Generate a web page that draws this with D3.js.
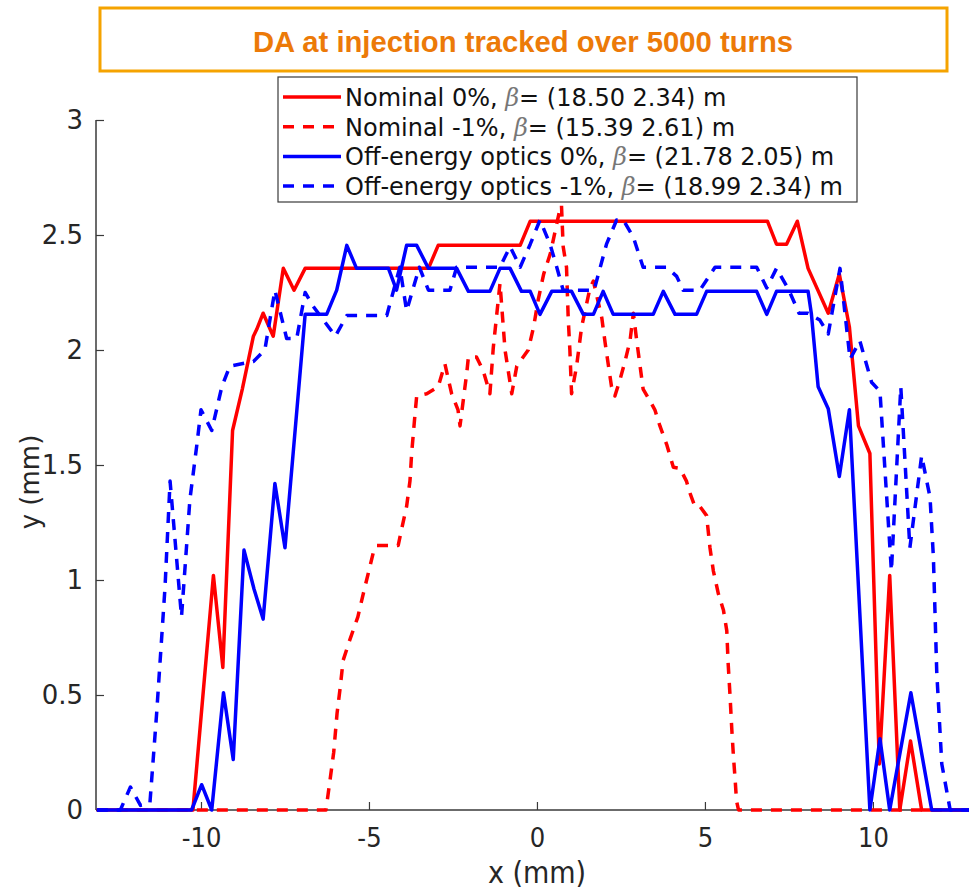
<!DOCTYPE html>
<html>
<head>
<meta charset="utf-8">
<script src="https://cdn.jsdelivr.net/npm/d3@7"></script>
<style>
  body { margin: 0; background: #fff; }
</style>
</head>
<body>
<div id="root"></div>
<script>
// Data ////////////////////////////////////////////////////////////////
const titleText = 'DA at injection tracked over 5000 turns';
const xTicks = [-10, -5, 0, 5, 10];
const xTickLabels = ['-10', '-5', '0', '5', '10'];
const yTicks = [0, 0.5, 1, 1.5, 2, 2.5, 3];
const yTickLabels = ['0', '0.5', '1', '1.5', '2', '2.5', '3'];

const legendNames = ['Nominal 0%', 'Nominal -1%', 'Off-energy optics 0%', 'Off-energy optics -1%'];
const legendBetas = ['(18.50 2.34)', '(15.39 2.61)', '(21.78 2.05)', '(18.99 2.34)'];

// x (mm), y (mm) pairs
const nominal0 = [
  [-13.1, 0], [-10.24, 0], [-9.63, 1.02], [-9.35, 0.62], [-9.06, 1.65], [-8.77, 1.83],
  [-8.44, 2.06], [-8.34, 2.09], [-8.15, 2.16], [-7.85, 2.06], [-7.55, 2.355], [-7.23, 2.26],
  [-6.9, 2.355], [-3.23, 2.355], [-2.94, 2.455], [-0.5, 2.455], [-0.2, 2.56], [6.86, 2.56],
  [7.13, 2.46], [7.43, 2.46], [7.75, 2.56], [8.07, 2.355], [8.67, 2.16], [9.0, 2.33],
  [9.3, 2.1], [9.57, 1.67], [9.91, 1.55], [10.19, 0.2], [10.5, 1.02], [10.8, 0],
  [11.12, 0.3], [11.45, 0], [12.9, 0]
];

const nominalM1 = [
  [-13.1, 0], [-6.28, 0], [-6.15, 0.14], [-6.05, 0.25], [-5.95, 0.42], [-5.85, 0.54],
  [-5.77, 0.65], [-5.57, 0.74], [-5.33, 0.84], [-5.17, 0.94], [-4.87, 1.12], [-4.77, 1.15],
  [-4.13, 1.15], [-4.03, 1.22], [-3.88, 1.32], [-3.78, 1.43], [-3.73, 1.55], [-3.63, 1.72],
  [-3.58, 1.8], [-3.28, 1.81], [-2.94, 1.84], [-2.74, 1.94], [-2.54, 1.81], [-2.35, 1.74],
  [-2.29, 1.67], [-2.09, 1.9], [-2.04, 1.97], [-1.8, 1.97], [-1.6, 1.91], [-1.4, 1.81],
  [-1.3, 2.01], [-1.1, 2.29], [-0.95, 2.0], [-0.75, 1.81], [-0.6, 1.93], [-0.26, 2.0],
  [-0.1, 2.1], [0.04, 2.22], [0.2, 2.33], [0.4, 2.42], [0.68, 2.61], [0.73, 2.63],
  [0.78, 2.45], [0.88, 2.36], [0.93, 2.14], [0.98, 2.0], [1.03, 1.81], [1.18, 1.93],
  [1.33, 2.1], [1.58, 2.27], [1.68, 2.3], [1.93, 2.14], [2.03, 2.03], [2.22, 1.84],
  [2.32, 1.8], [2.47, 1.87], [2.62, 1.95], [2.77, 2.04], [2.87, 2.16], [2.97, 2.04],
  [3.07, 1.93], [3.16, 1.83], [3.36, 1.78], [3.51, 1.74], [3.66, 1.67], [3.86, 1.59],
  [4.06, 1.49], [4.26, 1.485], [4.45, 1.43], [4.55, 1.38], [4.7, 1.32], [4.85, 1.32],
  [5.05, 1.28], [5.15, 1.14], [5.25, 1.04], [5.4, 0.94], [5.55, 0.87], [5.65, 0.78],
  [5.69, 0.64], [5.75, 0.49], [5.8, 0.35], [5.85, 0.23], [5.9, 0.13], [5.94, 0.04],
  [6.0, 0], [12.9, 0]
];

const offEnergy0 = [
  [-13.1, 0], [-10.28, 0], [-9.98, 0.11], [-9.68, 0], [-9.33, 0.51], [-9.04, 0.22],
  [-8.72, 1.13], [-8.42, 0.96], [-8.15, 0.83], [-7.8, 1.42], [-7.5, 1.14], [-6.9, 2.155],
  [-6.26, 2.155], [-5.96, 2.26], [-5.66, 2.455], [-5.37, 2.355], [-4.42, 2.355], [-4.18, 2.26],
  [-3.88, 2.455], [-3.58, 2.455], [-3.23, 2.355], [-2.39, 2.355], [-2.04, 2.255], [-1.4, 2.255],
  [-1.1, 2.355], [-0.8, 2.355], [-0.46, 2.255], [-0.2, 2.255], [0.09, 2.155], [0.44, 2.255],
  [1.03, 2.255], [1.38, 2.155], [1.68, 2.155], [1.97, 2.255], [2.27, 2.155], [3.46, 2.155],
  [3.76, 2.255], [4.11, 2.155], [4.75, 2.155], [5.05, 2.255], [6.54, 2.255], [6.84, 2.155],
  [7.13, 2.255], [8.07, 2.255], [8.17, 2.155], [8.37, 1.84], [8.67, 1.745], [9.0, 1.45],
  [9.3, 1.74], [9.91, 0], [10.21, 0.31], [10.5, 0], [11.13, 0.51], [11.75, 0], [12.9, 0]
];

const offEnergyM1 = [
  [-13.1, 0], [-12.4, 0], [-12.1, 0.1], [-11.8, 0.02], [-11.52, 0.03], [-11.32, 0.42],
  [-11.07, 0.97], [-10.92, 1.43], [-10.58, 0.84], [-10.33, 1.35], [-10.13, 1.58], [-10.0, 1.74],
  [-9.68, 1.65], [-9.38, 1.84], [-9.14, 1.93], [-8.44, 1.95], [-8.1, 2.0], [-7.8, 2.26],
  [-7.6, 2.14], [-7.45, 2.05], [-7.15, 2.05], [-6.9, 2.25], [-6.66, 2.19], [-6.0, 2.06],
  [-5.66, 2.15], [-4.47, 2.15], [-4.08, 2.36], [-3.88, 2.17], [-3.5, 2.36], [-3.23, 2.26],
  [-2.59, 2.26], [-2.39, 2.36], [-1.1, 2.36], [-0.8, 2.45], [-0.5, 2.36], [-0.2, 2.46],
  [0.09, 2.565], [0.39, 2.46], [0.59, 2.36], [0.78, 2.26], [1.7, 2.26], [2.07, 2.46],
  [2.37, 2.565], [2.57, 2.565], [2.87, 2.49], [3.16, 2.36], [3.86, 2.36], [4.16, 2.32],
  [4.35, 2.26], [4.85, 2.26], [5.3, 2.36], [6.54, 2.36], [6.84, 2.27], [7.13, 2.355],
  [7.5, 2.26], [7.8, 2.16], [8.07, 2.16], [8.42, 2.13], [8.67, 2.07], [9.02, 2.355],
  [9.32, 1.96], [9.61, 2.04], [9.96, 1.86], [10.21, 1.82], [10.55, 1.04], [10.83, 1.84],
  [11.1, 1.14], [11.45, 1.54], [11.7, 1.36], [11.8, 1.1], [11.9, 0.6], [12.05, 0.2],
  [12.3, 0], [12.9, 0]
];

const allSeries = [nominal0, nominalM1, offEnergy0, offEnergyM1];
const seriesColors = ['#ff0000', '#ff0000', '#0000ff', '#0000ff'];
const seriesDashed = [false, true, false, true];

// Chart ///////////////////////////////////////////////////////////////
const width = 969;
const height = 891;
const margin = { top: 120, right: 0, bottom: 81, left: 96 };

const svg = d3.select('#root').append('svg')
  .attr('width', width)
  .attr('height', height)
  .style('display', 'block');

svg.append('rect').attr('width', width).attr('height', height).attr('fill', '#fff');

const xScale = d3.scaleLinear().domain([-13.125, 12.86]).range([margin.left, width - margin.right]);
const yScale = d3.scaleLinear().domain([0, 3]).range([height - margin.bottom, margin.top]);

const axisColor = '#3a3a3a';

// y axis
const yAxis = svg.append('g')
  .attr('transform', `translate(${margin.left},0)`)
  .call(d3.axisRight(yScale).tickValues(yTicks).tickSize(8).tickFormat((d, i) => yTickLabels[i]));
yAxis.select('.domain').attr('stroke', axisColor).attr('stroke-width', 1.5).attr('d', `M0,${yScale(0)}V${yScale(3)}`);
yAxis.selectAll('.tick line').attr('stroke', axisColor).attr('stroke-width', 1.2);
yAxis.selectAll('.tick text')
  .attr('x', -13)
  .attr('text-anchor', 'end')
  .attr('fill', '#262626')
  .style('font-family', '"DejaVu Sans", sans-serif')
  .style('font-size', '26px');

// x axis
const xAxis = svg.append('g')
  .attr('transform', `translate(0,${yScale(0)})`)
  .call(d3.axisTop(xScale).tickValues(xTicks).tickSize(8).tickFormat((d, i) => xTickLabels[i]));
xAxis.select('.domain').attr('stroke', axisColor).attr('stroke-width', 1.5).attr('d', `M${margin.left},0H${width}`);
xAxis.selectAll('.tick line').attr('stroke', axisColor).attr('stroke-width', 1.2);
xAxis.selectAll('.tick text')
  .attr('y', 37)
  .attr('fill', '#262626')
  .style('font-family', '"DejaVu Sans Condensed", "DejaVu Sans", sans-serif')
  .style('font-stretch', 'condensed')
  .style('font-size', '27px');

// axis labels
svg.append('text')
  .attr('x', 537)
  .attr('y', 883)
  .attr('text-anchor', 'middle')
  .attr('fill', '#262626')
  .style('font-family', '"DejaVu Sans Condensed", "DejaVu Sans", sans-serif')
  .style('font-stretch', 'condensed')
  .style('font-size', '30px')
  .text('x (mm)');

svg.append('text')
  .attr('transform', 'translate(39,482) rotate(-90)')
  .attr('text-anchor', 'middle')
  .attr('fill', '#262626')
  .style('font-family', '"DejaVu Sans", sans-serif')
  .style('font-size', '26px')
  .text('y (mm)');

// lines
svg.append('clipPath').attr('id', 'plot-clip')
  .append('rect').attr('x', margin.left).attr('y', 0).attr('width', width - margin.left).attr('height', height);

const line = d3.line()
  .x((d) => xScale(d[0]))
  .y((d) => yScale(d[1]));

const plot = svg.append('g').attr('clip-path', 'url(#plot-clip)');
allSeries.forEach((series, i) => {
  plot.append('path')
    .datum(series)
    .attr('d', line)
    .attr('fill', 'none')
    .attr('stroke', seriesColors[i])
    .attr('stroke-width', 3.5)
    .attr('stroke-linejoin', 'round')
    .attr('stroke-dasharray', seriesDashed[i] ? '11,9' : null);
});

// title box
svg.append('rect')
  .attr('x', 100).attr('y', 8)
  .attr('width', 847).attr('height', 63)
  .attr('fill', '#fff')
  .attr('stroke', '#f5a300')
  .attr('stroke-width', 3);

svg.append('text')
  .attr('x', 523)
  .attr('y', 52)
  .attr('text-anchor', 'middle')
  .attr('fill', '#ec7a08')
  .attr('textLength', 540)
  .attr('lengthAdjust', 'spacingAndGlyphs')
  .style('font-family', '"Liberation Sans Narrow", "Liberation Sans", Arial, sans-serif')
  .style('font-weight', 'bold')
  .style('font-size', '29px')
  .text(titleText);

// legend
const legend = svg.append('g');
legend.append('rect')
  .attr('x', 278).attr('y', 77)
  .attr('width', 579).attr('height', 125)
  .attr('fill', '#fff')
  .attr('stroke', '#3a3a3a')
  .attr('stroke-width', 1.2);

legendNames.forEach((name, i) => {
  const cy = 97 + i * 29.7;
  legend.append('line')
    .attr('x1', 283).attr('x2', 341)
    .attr('y1', cy).attr('y2', cy)
    .attr('stroke', seriesColors[i])
    .attr('stroke-width', 3.5)
    .attr('stroke-dasharray', seriesDashed[i] ? '11,9' : null);
  const t = legend.append('text')
    .attr('x', 345)
    .attr('y', cy + 9)
    .attr('fill', '#111')
    .style('font-family', '"DejaVu Sans", sans-serif')
    .style('font-size', '24px');
  t.append('tspan').text(name + ', ');
  t.append('tspan')
    .attr('fill', '#777')
    .style('font-family', '"DejaVu Serif", serif')
    .style('font-style', 'italic')
    .text('β');
  t.append('tspan').text('= ' + legendBetas[i] + ' m');
});
</script>
</body>
</html>
